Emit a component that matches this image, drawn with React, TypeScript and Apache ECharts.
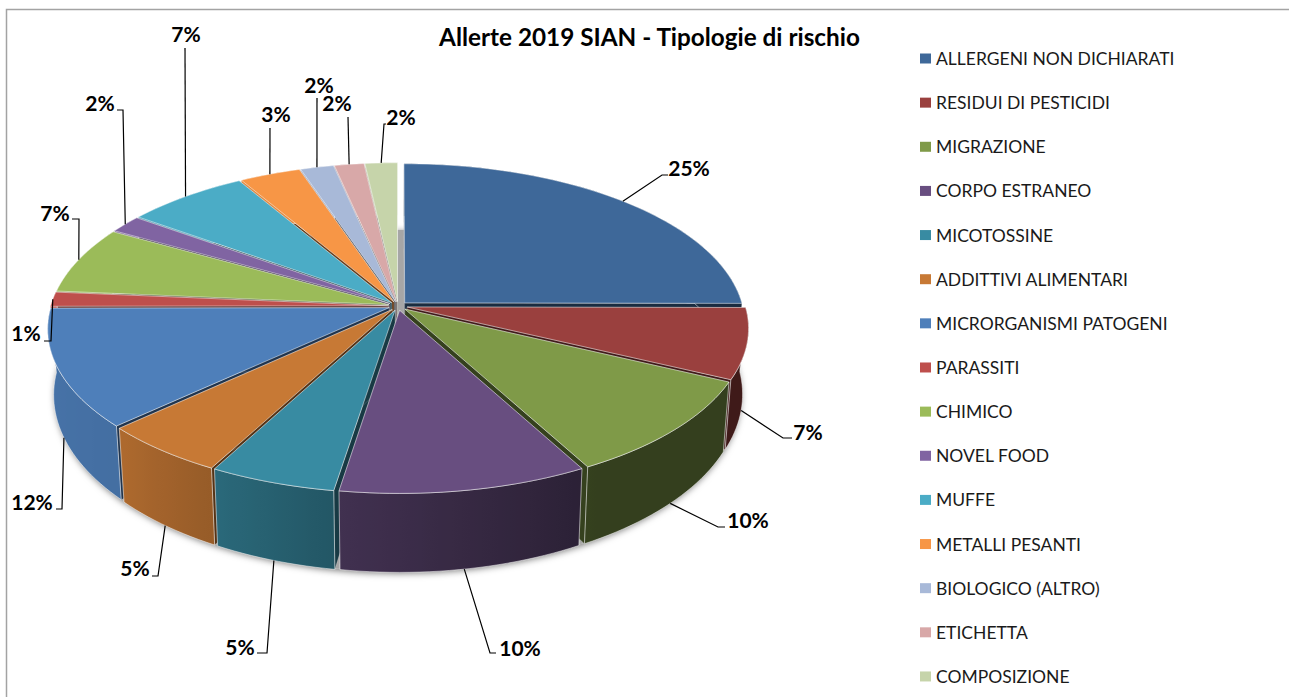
import React, { useEffect, useRef } from "react";
import * as echarts from "echarts";

const titleText = "Allerte 2019 SIAN - Tipologie di rischio";
const categories = [
  "ALLERGENI NON DICHIARATI", "RESIDUI DI PESTICIDI", "MIGRAZIONE", "CORPO ESTRANEO", "MICOTOSSINE",
  "ADDITTIVI ALIMENTARI", "MICRORGANISMI PATOGENI", "PARASSITI", "CHIMICO", "NOVEL FOOD", "MUFFE",
  "METALLI PESANTI", "BIOLOGICO (ALTRO)", "ETICHETTA", "COMPOSIZIONE",
];
const values = [25.1, 7.1, 10.0, 10.4, 5.3, 5.3, 11.9, 1.45, 6.8, 1.8, 6.6, 3.3, 1.8, 1.6, 1.75];
const colors = [
  "#3E6899", "#9A403E", "#7F9A48", "#684E80", "#388BA2", "#C77935", "#4E7FBA", "#BE4F4C",
  "#9BBB59", "#8064A2", "#4BACC6", "#F79646", "#A8B9D8", "#D8A8A8", "#C6D4AA",
];
// text x, text y, elbow x, elbow y, end x, end y
const labelLayout = [
  [689, 167, 662, 175, 668, 175], [808, 431, 783, 438, 792, 438], [748, 519, 718, 527, 725, 527],
  [520, 647, 490, 653, 496, 653], [240, 646, 267, 653, 257, 653], [135, 567, 158, 576, 152, 576],
  [32, 501, 62, 509, 56, 509], [26, 332, 51, 341, 44, 341], [55, 212, 79, 219, 72, 219],
  [100, 102, 123, 110, 117, 110], [186, 33, 185, 48, 185, 48], [276, 113, 270, 128, 270, 128],
  [319, 84, 317, 98, 317, 98], [337, 102, 348, 117, 348, 117], [401, 116, 384, 124, 386, 124],
];

const CX = 398, CY = 306, R = 338, H = 158, K = 0.13, EXPLODE = 0.028;
const DROP = 64, QX = 0.983, QY = 1.08;
const total = values.reduce((a, b) => a + b, 0);
const rad = (d: number) => (d * Math.PI) / 180;

function projectTop(X: number, Z: number): [number, number] {
  const s = 1 / (1 - K * Z);
  return [CX + R * X * s, CY + H * Z * s];
}
function toBottom(p: [number, number]): [number, number] {
  return [CX + QX * (p[0] - CX), CY + DROP + QY * (p[1] - CY)];
}
function shadeAt(deg: number) {
  const table = [[0, 0.45], [90, 0.41], [150, 0.41], [190, 0.63], [207, 0.75], [226, 0.87], [270, 0.92], [360, 0.92]];
  for (let i = 1; i < table.length; i++) {
    if (deg <= table[i][0]) {
      const t = (deg - table[i - 1][0]) / (table[i][0] - table[i - 1][0]);
      return table[i - 1][1] + t * (table[i][1] - table[i - 1][1]);
    }
  }
  return 0.92;
}
function darken(hex: string, f: number) {
  const n = parseInt(hex.slice(1), 16);
  const c = [(n >> 16) & 255, (n >> 8) & 255, n & 255].map((v) => Math.round(v * f));
  return `rgb(${c[0]},${c[1]},${c[2]})`;
}

type Slice = { start: number; end: number; mid: number; depth: number; ex: number; ez: number };
let acc = 0;
const slices: Slice[] = values.map((v) => {
  const start = (acc / total) * 360;
  acc += v;
  const end = (acc / total) * 360;
  const mid = (start + end) / 2;
  return { start, end, mid, depth: -Math.cos(rad(mid)), ex: EXPLODE * Math.sin(rad(mid)), ez: -EXPLODE * Math.cos(rad(mid)) };
});
const rank = slices.map((s) => slices.filter((o) => o.depth < s.depth).length);

function rimPoint(s: Slice, deg: number) {
  return projectTop(Math.sin(rad(deg)) + s.ex, -Math.cos(rad(deg)) + s.ez);
}
function sliceShapes(i: number) {
  const s = slices[i];
  const color = colors[i];
  const steps = Math.max(3, Math.ceil((s.end - s.start) / 1.5));
  const degs: number[] = [];
  for (let j = 0; j <= steps; j++) degs.push(s.start + ((s.end - s.start) * j) / steps);
  const arc = degs.map((d) => rimPoint(s, d));
  const arcB = arc.map(toBottom);
  const apex = projectTop(s.ex, s.ez);
  const apexB = toBottom(apex);
  const edge = "rgba(255,255,255,0.62)";
  const minX = Math.min(...arc.map((p) => p[0]), ...arcB.map((p) => p[0]));
  const maxX = Math.max(...arc.map((p) => p[0]), ...arcB.map((p) => p[0]));
  const stops = arc
    .map((p, j) => ({ offset: (p[0] - minX) / Math.max(1, maxX - minX), color: darken(color, shadeAt(degs[j])) }))
    .sort((a, b) => a.offset - b.offset);
  const radial = (p: [number, number], b: [number, number]) => ({
    type: "polygon",
    shape: { points: [apex, p, b, apexB] },
    style: { fill: darken(color, 0.42), stroke: "rgba(255,255,255,0.35)", lineWidth: 0.5 },
  });
  return [
    radial(arc[0], arcB[0]),
    radial(arc[arc.length - 1], arcB[arcB.length - 1]),
    {
      type: "polygon",
      shape: { points: [...arc, ...arcB.slice().reverse()] },
      style: {
        fill: new echarts.graphic.LinearGradient(0, 0, 1, 0, stops),
        stroke: edge,
        lineWidth: 0.8,
      },
    },
    {
      type: "polygon",
      shape: { points: [apex, ...arc] },
      style: { fill: color, stroke: edge, lineWidth: 0.8 },
    },
  ];
}
function basePoints() {
  const pts: [number, number][] = [];
  for (let d = 0; d < 360; d += 2) {
    const f = 1 + EXPLODE * 0.8;
    const z = -Math.cos(rad(d));
    pts.push(toBottom(projectTop(f * Math.sin(rad(d)), z < 0 ? 0.92 * z : f * z)));
  }
  return pts;
}
function leaderStart(i: number) {
  const s = slices[i];
  const p = rimPoint(s, s.mid);
  return s.depth > 0 ? toBottom(p) : p;
}

export default function App() {
  const ref = useRef<HTMLDivElement>(null);
  useEffect(() => {
    const chart = echarts.init(ref.current!, undefined, { renderer: "svg" });
    const labelFont = "bold 21px Lato";
    const labelEls: any[] = [];
    labelLayout.forEach((l, i) => {
      labelEls.push({
        type: "polyline",
        silent: true,
        z: 50,
        shape: { points: [leaderStart(i), [l[2], l[3]], [l[4], l[5]]] },
        style: { stroke: "#000", lineWidth: 1.2, fill: "none" },
      });
      labelEls.push({
        type: "text",
        silent: true,
        z: 51,
        x: l[0],
        y: l[1],
        style: {
          text: `${Math.round(values[i])}%`,
          font: labelFont,
          lineHeight: 16,
          fill: "#000",
          textAlign: "center",
          textVerticalAlign: "middle",
        },
      });
    });
    chart.setOption({
      animation: false,
      backgroundColor: "#fff",
      title: {
        text: titleText,
        left: 644.5,
        top: 19,
        textAlign: "center",
        textStyle: { fontFamily: "Lato", fontWeight: "bold", fontSize: 24.3, color: "#000" },
      },
      legend: {
        orient: "vertical",
        left: 915,
        top: 43,
        height: 650,
        itemWidth: 11,
        itemHeight: 10,
        itemGap: 23.14,
        selectedMode: false,
        textStyle: { fontFamily: "Lato", fontSize: 17.5, color: "#1a1a1a", lineHeight: 20, padding: [1, 0, 0, 0] },
        data: categories.map((name, i) => ({ name, icon: "rect", itemStyle: { color: colors[i] } })),
      },
      graphic: [
        {
          type: "polyline",
          silent: true,
          shape: { points: [[6.5, 697], [6.5, 9.5], [1289, 9.5]] },
          style: { stroke: "#A3A3A3", lineWidth: 1.5, fill: "none" },
        },
        ...labelEls,
      ],
      series: [
        ...categories.map((name, i) => ({
          type: "custom",
          name,
          coordinateSystem: "none",
          silent: true,
          z: 3 + rank[i],
          itemStyle: { color: colors[i] },
          data: [values[i]],
          renderItem: () => ({ type: "group", children: sliceShapes(i) }),
        })),
        {
          type: "custom",
          name: "base",
          coordinateSystem: "none",
          silent: true,
          z: 2,
          data: [total],
          renderItem: () => ({
            type: "polygon",
            shape: { points: basePoints() },
            style: { fill: "#A6A6A6", shadowBlur: 7, shadowColor: "rgba(0,0,0,0.55)", shadowOffsetY: 2 },
          }),
        },
      ],
    });
    return () => chart.dispose();
  }, []);
  return <div ref={ref} style={{ position: "absolute", left: 0, top: 0, width: 1289, height: 697 }} />;
}
